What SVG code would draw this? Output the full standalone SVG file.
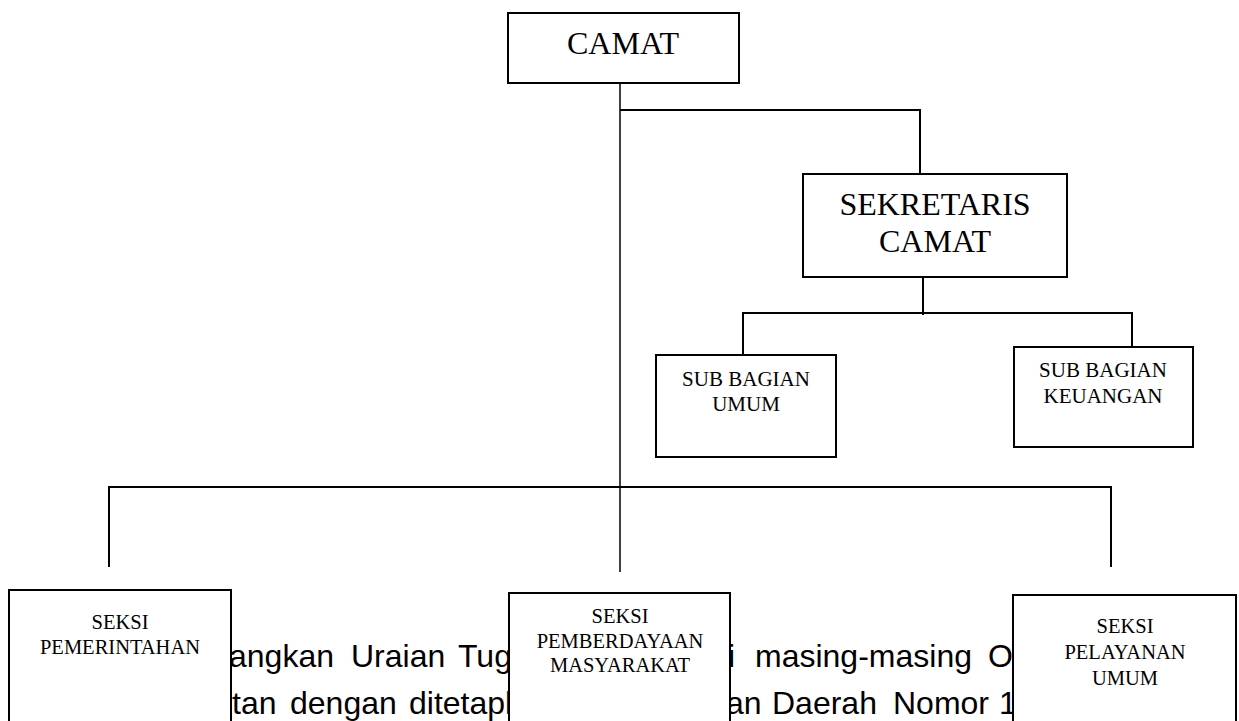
<svg xmlns="http://www.w3.org/2000/svg" width="1239" height="721" viewBox="0 0 1239 721">
<style>
.box{fill:#fff;stroke:#000;stroke-width:2}
.ln{fill:none;stroke:#000;stroke-width:2}
.thin{fill:none;stroke:#000;stroke-width:1.5}
.big{font-family:"Liberation Serif","Times New Roman",serif;font-size:32px;fill:#000;text-anchor:middle}
.mid{font-family:"Liberation Serif","Times New Roman",serif;font-size:21px;fill:#000;text-anchor:middle}
.sm{font-family:"Liberation Serif","Times New Roman",serif;font-size:20.5px;fill:#000;text-anchor:middle}
.body{font-family:"Liberation Sans",Arial,sans-serif;font-size:32px;fill:#000}
</style>
<rect width="1239" height="721" fill="#fff"/>
<g id="body-text">
<text class="body" x="229" y="667">angkan</text>
<text class="body" x="351" y="667">Uraian</text>
<text class="body" x="458" y="667">Tugas</text>
<text class="body" x="728" y="667">i</text>
<text class="body" x="755" y="667">masing-masing</text>
<text class="body" x="988" y="667">O</text>
<text class="body" x="232" y="714">tan</text>
<text class="body" x="290" y="714">dengan</text>
<text class="body" x="409" y="714">ditetapk</text>
<text class="body" x="726" y="714">an</text>
<text class="body" x="772" y="714">Daerah</text>
<text class="body" x="893" y="714">Nomor</text>
<text class="body" x="999" y="714">1</text>
</g>
<g id="connectors">
<line class="thin" x1="620" y1="83" x2="620" y2="572"/>
<polyline class="ln" points="620,110 920,110 920,174"/>
<line class="ln" x1="923" y1="277" x2="923" y2="315"/>
<polyline class="ln" points="743,355 743,313 1132,313 1132,347"/>
<polyline class="ln" points="109,567 109,487 1111,487 1111,567"/>
</g>
<g id="camat">
<rect class="box" x="508" y="13" width="231" height="70"/>
<text class="big" x="623" y="54">CAMAT</text>
</g>
<g id="sekretaris">
<rect class="box" x="803" y="174" width="264" height="103"/>
<text class="big" x="935" y="215">SEKRETARIS</text>
<text class="big" x="935" y="252">CAMAT</text>
</g>
<g id="sub-umum">
<rect class="box" x="656" y="355" width="180" height="102"/>
<text class="mid" x="746" y="386">SUB BAGIAN</text>
<text class="mid" x="746" y="411">UMUM</text>
</g>
<g id="sub-keuangan">
<rect class="box" x="1014" y="347" width="179" height="100"/>
<text class="mid" x="1103" y="377">SUB BAGIAN</text>
<text class="mid" x="1103" y="403">KEUANGAN</text>
</g>
<g id="seksi-pemerintahan">
<rect class="box" x="9" y="590" width="222" height="160"/>
<text class="sm" x="120" y="629">SEKSI</text>
<text class="sm" x="120" y="654">PEMERINTAHAN</text>
</g>
<g id="seksi-pemberdayaan">
<rect class="box" x="509" y="593" width="221" height="160"/>
<text class="sm" x="620" y="623">SEKSI</text>
<text class="sm" x="620" y="648">PEMBERDAYAAN</text>
<text class="sm" x="620" y="672">MASYARAKAT</text>
</g>
<g id="seksi-pelayanan">
<rect class="box" x="1013" y="595" width="223" height="160"/>
<text class="sm" x="1125" y="633">SEKSI</text>
<text class="sm" x="1125" y="659">PELAYANAN</text>
<text class="sm" x="1125" y="685">UMUM</text>
</g>
</svg>
